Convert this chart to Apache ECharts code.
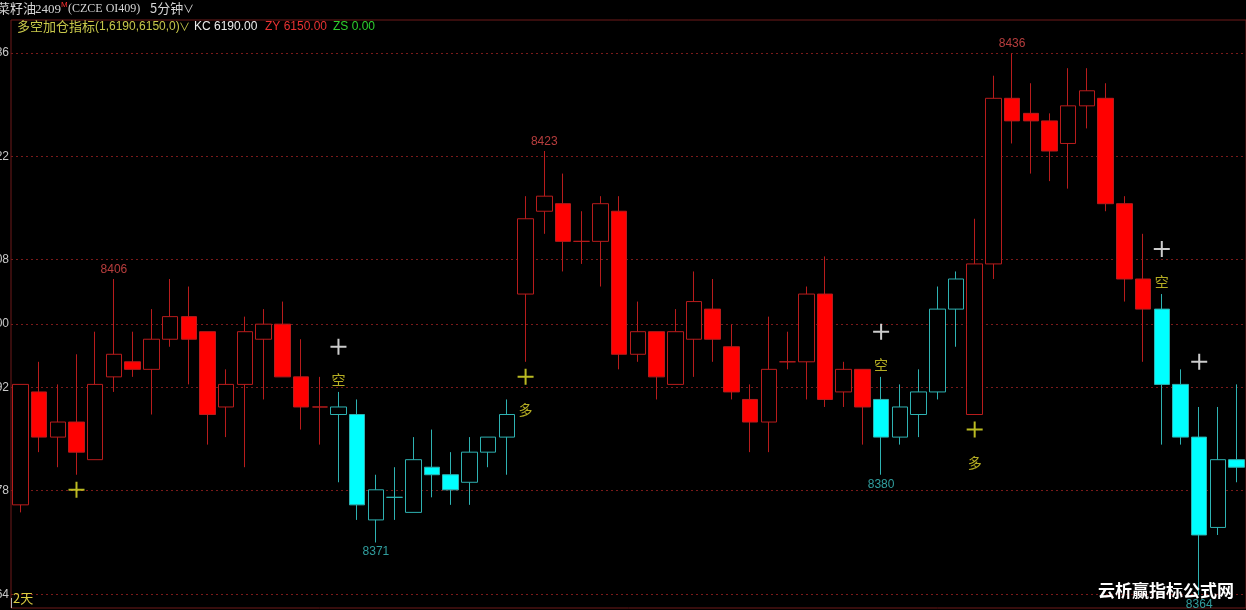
<!DOCTYPE html>
<html><head><meta charset="utf-8">
<script src="https://cdn.jsdelivr.net/npm/echarts@6/dist/echarts.min.js"></script>
<style>html,body{margin:0;padding:0;background:#000;overflow:hidden}#c{width:1246px;height:610px}</style>
</head><body><div id="c"></div>
<script>
// ---- data ----
const opens  = [8376,8391,8385,8387,8382,8393,8395,8394,8398,8401,8399,8389,8392,8398,8400,8393,8389,
                8388,8388,8374,8377,8375,8381,8380,8379,8383,8385,
                8404,8415,8416,8411,8411,8415,8396,8399,8392,8398,8402,8397,8390,8387,8395,8395,8404,8391,8394,
                8390,8385,8388,8391,8402,
                8388,8408,8430,8428,8427,8424,8429,8430,8416,8406,
                8402,8392,8385,8373,8382];
const closes = [8392,8385,8387,8383,8392,8396,8394,8398,8401,8398,8388,8392,8399,8400,8393,8389,8389,
                8389,8376,8378,8377,8382,8380,8378,8383,8385,8388,
                8414,8417,8411,8411,8416,8396,8399,8393,8399,8403,8398,8391,8387,8394,8395,8404,8390,8394,8389,
                8385,8389,8391,8402,8406,
                8408,8430,8427,8427,8423,8429,8431,8416,8406,8402,
                8392,8385,8372,8382,8381];
const lows   = [8375,8383,8381,8380,8382,8391,8393,8388,8397,8392,8384,8385,8381,8390,8393,8386,8384,
                8379,8374,8371,8374,8375,8377,8376,8376,8381,8380,
                8395,8412,8407,8408,8405,8394,8395,8390,8392,8393,8395,8390,8383,8383,8394,8390,8389,8389,8384,
                8380,8384,8385,8390,8397,
                8388,8406,8424,8420,8419,8418,8426,8415,8403,8395,
                8384,8384,8364,8372,8379];
const highs  = [8392,8395,8392,8396,8399,8406,8399,8402,8406,8405,8399,8394,8401,8402,8403,8398,8393,
                8391,8390,8380,8381,8385,8386,8383,8385,8385,8390,
                8417,8423,8420,8415,8417,8417,8403,8399,8402,8407,8406,8400,8392,8401,8399,8405,8409,8395,8394,
                8393,8392,8394,8405,8407,
                8414,8433,8436,8432,8428,8434,8434,8432,8417,8412,
                8404,8394,8389,8389,8392];
// indicator regime per bar: R = long side (red), C = short side (cyan)
const regime = ['R','R','R','R','R','R','R','R','R','R','R','R','R','R','R','R','R',
                'C','C','C','C','C','C','C','C','C','C',
                'R','R','R','R','R','R','R','R','R','R','R','R','R','R','R','R','R','R','R',
                'C','C','C','C','C',
                'R','R','R','R','R','R','R','R','R','R',
                'C','C','C','C','C'];
// signal crosses
const signalIdx   = [3, 17, 27, 46, 51, 61, 63];
const signalPrice = [8378, 8397, 8393, 8399, 8386, 8410, 8395];
const signalSide  = ['long','short','long','short','long','short','short'];
const signalText  = ['', '空', '多', '空', '多', '空', ''];
// marked extremes
const highMarkIdx = [5, 28, 53];
const lowMarkIdx  = [19, 46, 63];
// price axis ticks
const tickValues = [8436, 8422.3, 8408.6, 8400, 8391.6, 8377.9, 8364.1];
const tickLabels = ['8436','8422','8408','8400','8392','8378','8364'];
const daySplitIndex = 27;

// ---- build ----
const palette = {
  R: {fill:'#ff0000', line:'#b81c1c'},
  C: {fill:'#00ffff', line:'#2eb2b2'}
};
const cats = opens.map((_, i) => String(i));
const candleData = opens.map((o, i) => {
  const p = palette[regime[i]];
  const fill = closes[i] < o ? p.fill : '#000000';
  return {value:[o, closes[i], lows[i], highs[i]],
          itemStyle:{color:fill, color0:fill, borderColor:p.line, borderColor0:p.line, borderColorDoji:p.line}};
});
const crossPath = 'path://M7 0h2v16h-2z M0 7h16v2h-16z';
const signalData = signalIdx.map((ix, k) => ({
  value:[ix, signalPrice[k]],
  itemStyle:{color: signalSide[k] === 'long' ? '#e8e82a' : '#ffffff'},
  label:{show: signalText[k] !== '', formatter: signalText[k], color:'#e2d82c'}
}));
const extremeData = highMarkIdx.map(ix => ({
    value:[ix, highs[ix]],
    label:{position:'top', color:'#e44c4c'}
  })).concat(lowMarkIdx.map(ix => ({
    value:[ix, lows[ix]],
    label:{position:'bottom', color:'#3cc4c4'}
  })));

const chart = echarts.init(document.getElementById('c'), null, {renderer:'canvas'});
const cjk = '"Noto Sans CJK SC", "Noto Sans", sans-serif';
const lat = '"Liberation Sans", Arial, sans-serif';
chart.setOption({
  backgroundColor:'#000000',
  animation:false,
  grid:{left:11, right:0, top:20, bottom:2, containLabel:false, outerBoundsMode:'none',
        show:true, borderColor:'#6e1a1a', borderWidth:1, backgroundColor:'transparent'},
  xAxis:{
    type:'category', data:cats, boundaryGap:true,
    axisLine:{show:false},
    axisLabel:{show:false},
    axisTick:{show:true, inside:true, length:10, alignWithLabel:false,
              interval:(index) => index === daySplitIndex,
              lineStyle:{color:'#b8b8b8', width:1}},
    splitLine:{show:false}
  },
  yAxis:{
    type:'value', min:8362.3, max:8440.4, scale:true,
    axisLine:{show:false},
    axisTick:{show:false, customValues:tickValues},
    axisLabel:{show:true, customValues:tickValues, margin:2, color:'#c8c8c8', fontSize:12, fontFamily:lat,
               formatter:(v) => { const k = tickValues.indexOf(v); return k >= 0 ? tickLabels[k] : ''; }},
    splitLine:{show:true, lineStyle:{color:'#7a1a1a', type:[2,3], width:1}}
  },
  series:[
    {type:'candlestick', data:candleData, barWidth:16,
     itemStyle:{borderWidth:1}, emphasis:{disabled:true}},
    {type:'scatter', data:signalData, symbol:crossPath, symbolSize:16, z:5,
     label:{position:'bottom', distance:18, color:'#e2d82c', fontSize:14, fontFamily:cjk},
     emphasis:{disabled:true}},
    {type:'scatter', data:extremeData, symbol:'circle', symbolSize:1, z:4,
     itemStyle:{color:'rgba(0,0,0,0)'},
     label:{show:true, distance:3, fontSize:12, fontFamily:lat, formatter:(p) => String(p.value[1])},
     emphasis:{disabled:true}}
  ],
  graphic:[
    {type:'text', left:-3, top:2, z:10, style:{text:'菜籽油', fill:'#d4d4d4', font:'13px ' + cjk}},
    {type:'text', left:35, top:3, z:10, style:{text:'2409', fill:'#d4d4d4', font:'13px "Liberation Serif", serif'}},
    {type:'text', left:61, top:1, z:10, style:{text:'M', fill:'#ff3030', font:'8px ' + lat}},
    {type:'text', left:68, top:3, z:10, style:{text:'(CZCE OI409)', fill:'#d4d4d4', font:'12px "Liberation Serif", serif'}},
    {type:'text', left:150, top:2, z:10, style:{text:'5分钟', fill:'#d4d4d4', font:'13px ' + cjk}},
    {type:'text', left:183, top:3, z:10, style:{text:'∨', fill:'#d4d4d4', font:'11px ' + cjk}},
    {type:'text', left:17, top:20, z:10, style:{text:'多空加仓指标', fill:'#c8c84a', font:'13px ' + cjk}},
    {type:'text', left:95, top:21, z:10, style:{text:'(1,6190,6150,0)', fill:'#c8c84a', font:'12px ' + lat}},
    {type:'text', left:179, top:21, z:10, style:{text:'∨', fill:'#c8c84a', font:'11px ' + cjk}},
    {type:'text', left:194, top:21, z:10, style:{text:'KC 6190.00', fill:'#ececec', font:'12px ' + lat}},
    {type:'text', left:265, top:21, z:10, style:{text:'ZY 6150.00', fill:'#e83232', font:'12px ' + lat}},
    {type:'text', left:333, top:21, z:10, style:{text:'ZS 0.00', fill:'#2ed02e', font:'12px ' + lat}},
    {type:'text', left:13, top:592, z:10, style:{text:'2天', fill:'#dccc40', font:'13px ' + cjk}},
    {type:'text', left:1098, top:582, z:20, style:{text:'云析赢指标公式网', fill:'#ffffff', font:'bold 17px ' + cjk}}
  ]
});
</script></body></html>
